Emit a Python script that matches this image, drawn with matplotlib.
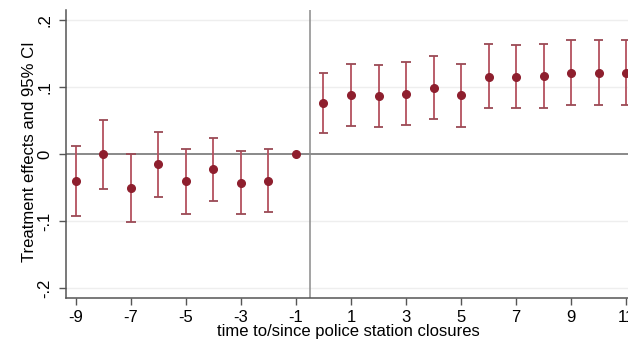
import matplotlib
matplotlib.use("Agg")
import matplotlib.pyplot as plt
import numpy as np

# Data
periods = [-9, -8, -7, -6, -5, -4, -3, -2, -1, 0, 1, 2, 3, 4, 5, 6, 7, 8, 9, 10, 11]
estimate = [-0.040, 0.000, -0.051, -0.015, -0.040, -0.023, -0.043, -0.040, 0.000,
            0.076, 0.088, 0.087, 0.090, 0.099, 0.088, 0.115, 0.115, 0.116, 0.121, 0.121, 0.121]
ci_low = [-0.092, -0.052, -0.101, -0.064, -0.089, -0.070, -0.090, -0.086, None,
          0.031, 0.042, 0.040, 0.044, 0.053, 0.041, 0.068, 0.068, 0.069, 0.073, 0.073, 0.073]
ci_high = [0.012, 0.051, 0.000, 0.033, 0.008, 0.024, 0.004, 0.007, None,
           0.121, 0.134, 0.133, 0.137, 0.146, 0.134, 0.164, 0.163, 0.164, 0.170, 0.170, 0.170]
xticks = [-9, -7, -5, -3, -1, 1, 3, 5, 7, 9, 11]
yticks = [-0.2, -0.1, 0.0, 0.1, 0.2]
yticklabels = ["-.2", "-.1", "0", ".1", ".2"]

plt.rcParams['font.family'] = ['Liberation Sans', 'DejaVu Sans']

fig = plt.figure(figsize=(6.28, 3.4), dpi=100)
ax = fig.add_axes([66/628, 1 - 298/340, 570/628, 288/340])

bar_color = "#b4505e"
dot_color = "#8e1f2e"

for x, lo, hi in zip(periods, ci_low, ci_high):
    if lo is None:
        continue
    ax.vlines(x, lo, hi, color=bar_color, lw=1.3, zorder=3)
    ax.hlines([lo, hi], x - 0.17, x + 0.17, color="#9a4a55", lw=1.3, zorder=3)

ax.plot(periods, estimate, "o", color=dot_color, ms=5.5, zorder=4, ls="none")

for yv in [-0.2, -0.1, 0.1, 0.2]:
    ax.axhline(yv, color="#eeeeee", lw=1, zorder=1)
ax.axhline(0, color="#6a6a6a", lw=1.1, zorder=2)
ax.axvline(-0.5, color="#8a8a8a", lw=1.1, zorder=2)

ax.set_xlim(-9.36, 11.36)
ax.set_ylim(-0.215, 0.215)
ax.set_xticks(xticks)
ax.set_xticklabels([str(t) for t in xticks], fontsize=12)
ax.set_yticks(yticks)
ax.set_yticklabels(yticklabels, fontsize=12, rotation=90, va="center")

for s in ["top", "right"]:
    ax.spines[s].set_visible(False)
for s in ["left", "bottom"]:
    ax.spines[s].set_color("#555555")
    ax.spines[s].set_linewidth(1.1)
ax.tick_params(axis="both", direction="out", length=5, width=1, color="#555555", pad=4)
ax.tick_params(axis="y", pad=5)

ax.set_xlabel("time to/since police station closures", fontsize=12)
ax.set_ylabel("Treatment effects and 95% CI", fontsize=12)
ax.xaxis.set_label_coords((348 - 66) / 570, -26 / 288)
ax.yaxis.set_label_coords((37 - 66) / 570, (298 - 152) / 288)

fig.savefig("out.png", dpi=100)
